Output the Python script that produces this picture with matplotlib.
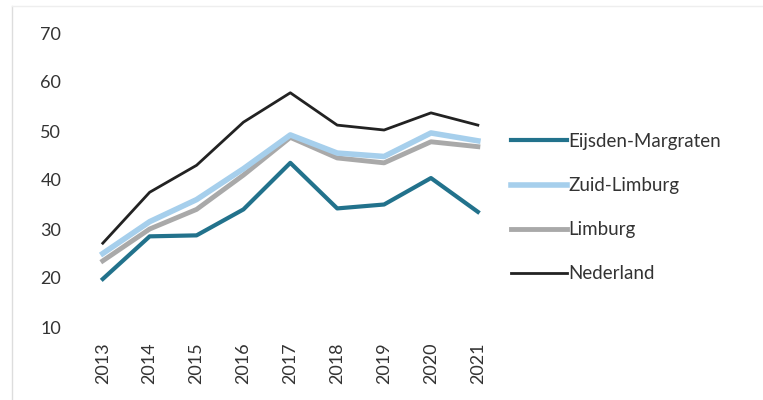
import matplotlib.pyplot as plt
from matplotlib.lines import Line2D

# jaren en percentages per gebied
years = ["2013", "2014", "2015", "2016", "2017", "2018", "2019", "2020", "2021"]
eijsden = [19.8, 28.5, 28.7, 34.0, 43.5, 34.2, 35.0, 40.4, 33.5]
zuid_limburg = [25.0, 31.5, 36.0, 42.3, 49.2, 45.5, 44.8, 49.6, 48.0]
limburg = [23.5, 30.0, 34.0, 41.0, 48.7, 44.5, 43.5, 47.8, 46.8]
nederland = [27.1, 37.5, 43.0, 51.8, 57.8, 51.2, 50.2, 53.7, 51.2]

plt.rcParams["font.family"] = ["Lato", "DejaVu Sans"]

fig = plt.figure(figsize=(7.63, 4), dpi=100)
ax = fig.add_axes([0.104, 0.1825, 0.553, 0.735])

x = range(len(years))
ax.plot(x, nederland, color="#222222", lw=2.0, label="Nederland")
ax.plot(x, limburg, color="#a9a9a9", lw=3.5, label="Limburg")
ax.plot(x, zuid_limburg, color="#a6cfec", lw=4.0, label="Zuid-Limburg")
ax.plot(x, eijsden, color="#22728c", lw=3.0, label="Eijsden-Margraten")

ax.set_xlim(-0.5, len(years) - 0.5)
ax.set_ylim(10, 70)
ax.set_yticks(range(10, 71, 10))
ax.set_xticks(list(x))
ax.set_xticklabels(years, rotation=90)
ax.tick_params(axis="both", length=0, labelsize=13, colors="#333333")
ax.tick_params(axis="y", pad=13)
ax.tick_params(axis="x", pad=11)
for s in ax.spines.values():
    s.set_visible(False)

# legenda in de volgorde van de bron
handles = [
    Line2D([], [], color="#22728c", lw=3.0),
    Line2D([], [], color="#a6cfec", lw=4.0),
    Line2D([], [], color="#a9a9a9", lw=3.5),
    Line2D([], [], color="#222222", lw=2.0),
]
labels = ["Eijsden-Margraten", "Zuid-Limburg", "Limburg", "Nederland"]
fig.legend(handles, labels, loc="upper left", bbox_to_anchor=(0.647, 0.71),
           frameon=False, fontsize=13.5, handlelength=3.0, handletextpad=0.1,
           labelspacing=1.45, labelcolor="#333333")

# lichte kaderlijnen van het grafiekvlak
fig.add_artist(Line2D([0.016, 0.016], [0.0, 0.985], color="#dddddd", lw=1))
fig.add_artist(Line2D([0.016, 1.0], [0.985, 0.985], color="#eeeeee", lw=1))

fig.savefig("out.png", dpi=100)
